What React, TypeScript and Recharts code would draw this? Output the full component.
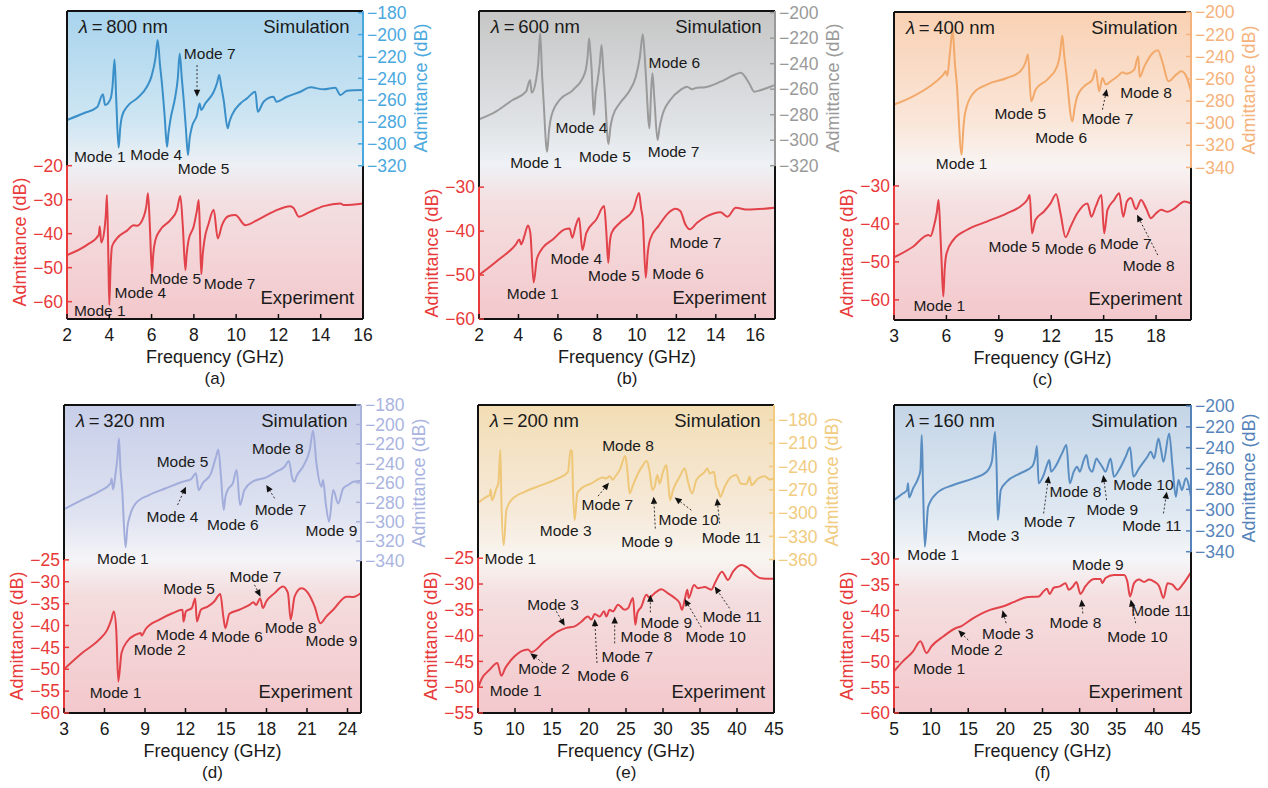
import React from "react";
import {
  ComposedChart,
  Line,
  XAxis,
  YAxis,
  ReferenceArea,
  ReferenceLine,
  ReferenceDot,
} from "recharts";

type Pt = [number, number];
type Note = [string, number, number, "l" | "r"];
type Arrow = [number, number, number, number, "l" | "r"];

const FONT = '"Liberation Sans", Arial, Helvetica, sans-serif';
const EXP_COLOR = "#e2424a";
const EXP_AXIS = "#e83a3a";

// ---------- (a) 800 nm ----------
const xTicksA = [2, 4, 6, 8, 10, 12, 14, 16];
const leftTicksA = [-20, -30, -40, -50, -60];
const rightTicksA = [-180, -200, -220, -240, -260, -280, -300, -320];
const simA: Pt[] = [
  [2, -278.2], [2.79, -272], [3.42, -266.6], [3.7, -254.7], [3.8, -264.5], [4.05, -259.3],
  [4.15, -248], [4.25, -222.7], [4.33, -260], [4.44, -303.5], [4.52, -285], [4.6, -275],
  [4.84, -266], [5.31, -258.4], [5.78, -247.7], [6.0, -238], [6.18, -222], [6.29, -205],
  [6.4, -228], [6.49, -244.7], [6.62, -275], [6.73, -302.6], [6.8, -290], [6.89, -278],
  [7.12, -256.9], [7.24, -240], [7.33, -217.2], [7.43, -240], [7.52, -259.9], [7.62, -285],
  [7.72, -310.2], [7.8, -295], [7.91, -284.3], [8.15, -273.6], [8.27, -263], [8.35, -269],
  [8.54, -263], [8.94, -252.3], [9.1, -244], [9.2, -237], [9.3, -248], [9.41, -259.9],
  [9.6, -285.8], [9.68, -280], [9.8, -273.6], [10.2, -263], [10.51, -258.4], [10.91, -252.3],
  [11.02, -270.6], [11.3, -261.4], [11.77, -256.9], [11.9, -261.4], [12.4, -256.9],
  [13.04, -252.3], [13.51, -248.3], [14.14, -250.1], [14.69, -248.6], [14.93, -255.3],
  [15.24, -251.4], [16, -250.8],
];
const expA: Pt[] = [
  [2, -46.3], [2.95, -43.3], [3.5, -40.4], [3.55, -37.9], [3.62, -42.6], [3.77, -38.9],
  [3.84, -34], [3.89, -28.6], [3.95, -45], [4.0, -61], [4.06, -50], [4.13, -43.8],
  [4.36, -41.4], [4.84, -39.1], [5.15, -37.5], [5.31, -37.7], [5.63, -35], [5.75, -32],
  [5.83, -28.1], [5.92, -38], [6.02, -51.7], [6.08, -46], [6.18, -41.9], [6.41, -38.9],
  [6.89, -36], [7.2, -33], [7.36, -28.9], [7.48, -38], [7.6, -50.7], [7.66, -46],
  [7.75, -41.9], [7.99, -37.9], [8.15, -33], [8.23, -30.1], [8.29, -40], [8.35, -51.9],
  [8.42, -46], [8.5, -41.9], [8.7, -37], [8.94, -33], [9.13, -41.4], [9.33, -37.5],
  [9.65, -34.8], [9.96, -34.5], [10.44, -37.5], [11.0, -36], [11.77, -33.5], [12.56, -31.9],
  [12.72, -32.5], [12.96, -35], [13.51, -33.5], [14.14, -31.9], [14.93, -31.1],
  [15.09, -31.6], [16, -31.1],
];
const notesA: Note[] = [
  ["Mode 1", 3.55, -311.7, "r"], ["Mode 4", 6.22, -309.3, "r"], ["Mode 7", 8.75, -217.2, "r"],
  ["Mode 5", 8.46, -323, "r"], ["Mode 1", 3.55, -62.5, "l"], ["Mode 4", 5.47, -57.3, "l"],
  ["Mode 5", 7.12, -53.1, "l"], ["Mode 7", 9.69, -54.6, "l"],
];
const arrowsA: Arrow[] = [[8.15, -227.9, 8.15, -256.9, "r"]];

// ---------- (b) 600 nm ----------
const xTicksB = [2, 4, 6, 8, 10, 12, 14, 16];
const leftTicksB = [-30, -40, -50, -60];
const rightTicksB = [-200, -220, -240, -260, -280, -300, -320];
const simB: Pt[] = [
  [2, -283.7], [2.85, -277.6], [3.7, -268.5], [4.38, -262], [4.59, -252.8], [4.67, -262.7],
  [4.89, -252.8], [5.0, -240], [5.1, -216.2], [5.2, -250], [5.27, -268.5], [5.45, -309],
  [5.55, -292], [5.66, -281.6], [6.08, -268.5], [6.76, -260.7], [7.36, -247.6], [7.5, -235],
  [7.58, -220.1], [7.65, -232], [7.7, -242.4], [7.82, -280.3], [7.92, -262], [7.99, -255.4],
  [8.12, -240], [8.21, -225.4], [8.3, -245], [8.38, -263.3], [8.56, -303], [8.66, -290],
  [8.77, -281.6], [9.14, -271.1], [9.65, -260.7], [9.95, -250], [10.15, -235], [10.3, -217],
  [10.38, -230], [10.45, -247.6], [10.64, -290.7], [10.72, -262], [10.79, -247.6],
  [10.89, -268.5], [11.05, -299.9], [11.15, -290], [11.27, -281.6], [11.69, -268.5],
  [12.2, -260.7], [12.54, -258], [12.8, -260.1], [13.05, -258.8], [13.39, -258.6],
  [14.24, -254.1], [14.93, -248.9], [15.27, -247.1], [15.69, -255.4], [15.95, -262],
  [16.29, -260.7], [17, -256.7],
];
const expB: Pt[] = [
  [2, -50], [3.02, -46.4], [3.87, -43], [4.04, -41.9], [4.14, -43], [4.3, -41.1], [4.48, -38.7],
  [4.6, -40.4], [4.77, -51.7], [4.93, -46.4], [5.23, -43.8], [5.74, -41.9], [6.34, -39.6],
  [6.59, -39.4], [6.73, -41.5], [6.9, -38.8], [7.07, -37], [7.24, -44.3], [7.44, -40.4],
  [7.95, -37.3], [8.34, -34.3], [8.45, -40], [8.55, -47.2], [8.62, -43], [8.72, -40.4],
  [9.14, -38.1], [9.82, -35.1], [10.11, -31.3], [10.22, -35], [10.3, -37.3], [10.45, -50.6],
  [10.55, -45], [10.67, -41.9], [11.1, -38.8], [11.61, -35.8], [11.95, -34.9], [12.2, -35.4],
  [12.46, -38.5], [12.68, -39.6], [13.05, -38.1], [13.56, -36.6], [14.24, -35.7],
  [14.59, -36.7], [15.01, -34.7], [15.61, -35.1], [17, -34.7],
];
const notesB: Note[] = [
  ["Mode 4", 7.19, -290, "r"], ["Mode 1", 4.89, -317.4, "r"], ["Mode 5", 8.38, -313, "r"],
  ["Mode 6", 11.9, -239.2, "r"], ["Mode 7", 11.86, -308.5, "r"], ["Mode 4", 6.93, -46.2, "l"],
  ["Mode 5", 8.84, -50.2, "l"], ["Mode 6", 12.09, -49.6, "l"], ["Mode 7", 12.97, -42.5, "l"],
  ["Mode 1", 4.72, -54.3, "l"],
];
const arrowsB: Arrow[] = [];

// ---------- (c) 400 nm ----------
const xTicksC = [3, 6, 9, 12, 15, 18];
const leftTicksC = [-30, -40, -50, -60];
const rightTicksC = [-200, -220, -240, -260, -280, -300, -320, -340];
const simC: Pt[] = [
  [3, -283.4], [4.09, -275.9], [5.05, -266.8], [5.82, -256.3], [5.97, -253.3], [6.05, -257.2],
  [6.2, -236.7], [6.36, -215.7], [6.48, -245], [6.59, -263.8], [6.87, -328.6], [6.97, -305],
  [7.07, -290.9], [7.55, -272.9], [8.31, -265.3], [9.46, -259.3], [10.23, -253.3],
  [10.52, -245.8], [10.67, -238.2], [10.85, -280.4], [11.1, -269.9], [11.77, -260.8],
  [12.34, -248.8], [12.5, -238], [12.63, -221.1], [12.75, -240], [12.86, -254.8],
  [13.21, -298.5], [13.35, -285], [13.49, -275.9], [13.88, -266.8], [14.36, -260.8],
  [14.55, -251.8], [14.74, -271.4], [14.93, -259.3], [15.12, -265.3], [15.41, -262.3],
  [15.8, -257.8], [16.08, -254.2], [16.27, -255.4], [16.75, -251.8], [16.98, -239.7],
  [17.06, -258.4], [17.33, -248.8], [17.81, -236.7], [18.1, -234.3], [18.38, -245.8],
  [18.71, -262.3], [19.15, -256.3], [19.44, -253.3], [19.73, -257.8], [20, -271.4],
];
const expC: Pt[] = [
  [3, -48.8], [4.09, -46], [4.96, -42.9], [5.09, -43.2], [5.28, -40.7], [5.45, -37],
  [5.55, -33.7], [5.65, -42], [5.72, -49.5], [5.82, -59.1], [5.9, -52], [6.01, -47.7],
  [6.4, -44.2], [7.16, -41.6], [8.31, -39.4], [9.46, -37.2], [10.23, -35.4], [10.62, -33.7],
  [10.77, -32.4], [10.9, -42.5], [11.1, -38.9], [11.57, -36.8], [11.96, -34.6], [12.28, -32.2],
  [12.53, -37.2], [12.82, -43.5], [13.11, -40.7], [13.49, -37.2], [14.07, -34.6],
  [14.3, -38.1], [14.55, -35.4], [14.87, -32.4], [15.03, -42.5], [15.22, -36.3], [15.6, -33.7],
  [15.89, -31.9], [16.12, -38.1], [16.33, -34.1], [16.56, -33.2], [16.85, -36.1],
  [17.14, -33.7], [17.43, -35.9], [17.71, -38.5], [18.0, -37.2], [18.29, -36.3],
  [18.67, -36.8], [19.06, -35.9], [19.63, -34.1], [20, -34.6],
];
const notesC: Note[] = [
  ["Mode 1", 6.87, -336.1, "r"], ["Mode 5", 10.23, -290.9, "r"], ["Mode 6", 12.57, -312.9, "r"],
  ["Mode 7", 15.22, -295.8, "r"], ["Mode 8", 17.43, -272.3, "r"], ["Mode 5", 9.89, -46, "l"],
  ["Mode 6", 13.11, -46.4, "l"], ["Mode 7", 16.27, -45.1, "l"], ["Mode 8", 17.58, -51, "l"],
  ["Mode 1", 5.59, -61.6, "l"],
];
const arrowsC: Arrow[] = [
  [14.93, -287.9, 15.18, -269.3, "r"],
  [18.1, -48.2, 16.91, -37.6, "l"],
];

// ---------- (d) 320 nm ----------
const xTicksD = [3, 6, 9, 12, 15, 18, 21, 24];
const leftTicksD = [-25, -30, -35, -40, -45, -50, -55, -60];
const rightTicksD = [-180, -200, -220, -240, -260, -280, -300, -320, -340];
const simD: Pt[] = [
  [3, -287.2], [4.34, -277.6], [5.58, -269.1], [6.45, -260.5], [6.52, -255.4], [6.64, -266.7],
  [6.82, -250.2], [6.95, -235], [7.07, -214.3], [7.18, -245], [7.31, -267.4], [7.56, -326.3],
  [7.7, -305], [7.86, -294.8], [8.31, -281.1], [9.3, -272.5], [10.54, -265.6], [11.78, -258.8],
  [12.4, -256.4], [12.77, -250.2], [12.97, -267.4], [13.27, -260.5], [13.89, -250.2],
  [14.26, -233.1], [14.43, -225.6], [14.63, -253.7], [14.83, -287.9], [14.95, -275],
  [15.12, -267.4], [15.5, -260.5], [15.79, -246.8], [16.04, -282.8], [16.36, -267.4],
  [16.98, -258.8], [17.98, -254.3], [18.72, -248.5], [19.34, -243.4], [19.66, -237.6],
  [19.91, -255.4], [20.08, -258.8], [20.21, -253.7], [20.7, -243.4], [21.2, -226.2],
  [21.45, -206.4], [21.7, -240], [22.07, -263.9], [22.19, -257.1], [22.39, -281.1],
  [22.64, -299.9], [22.94, -267.4], [23.31, -281.1], [23.68, -265.6], [24.05, -262.2],
  [24.43, -258.8], [25, -257.8],
];
const expD: Pt[] = [
  [3, -50], [4.34, -46.3], [5.58, -43.3], [6.2, -41], [6.5, -38.7], [6.69, -36.8], [6.87, -41],
  [7.02, -52.8], [7.26, -46.3], [7.69, -43.6], [8.31, -42.1], [8.68, -41.7], [8.75, -42.3],
  [9.05, -40.8], [10.04, -38.7], [11.03, -37.2], [11.78, -36.4], [11.85, -39.1],
  [12.03, -36.8], [12.47, -36], [12.72, -33.8], [12.84, -39.1], [13.14, -36.4], [13.64, -35.7],
  [14.13, -34.5], [14.58, -32.8], [14.8, -37.9], [14.95, -40.6], [15.25, -37.3],
  [15.99, -36.4], [16.74, -35.3], [17.03, -34.7], [17.23, -35.3], [17.53, -33.8], [17.73, -36],
  [17.98, -34.5], [18.6, -32.6], [19.22, -31.1], [19.59, -32.6], [19.79, -38.7],
  [20.08, -33.4], [20.58, -31.5], [21.08, -32.6], [21.57, -35.7], [21.99, -39.5],
  [22.44, -37.9], [22.94, -36.4], [23.93, -33.4], [24.42, -33.5], [25, -32.6],
];
const notesD: Note[] = [
  ["Mode 5", 11.78, -238.2, "r"], ["Mode 4", 11.03, -294.8, "r"], ["Mode 6", 15.5, -303.3, "r"],
  ["Mode 8", 18.84, -224.5, "r"], ["Mode 7", 19.04, -286.9, "r"], ["Mode 9", 22.81, -308.5, "r"],
  ["Mode 1", 7.36, -337.6, "r"], ["Mode 5", 12.27, -31.6, "l"], ["Mode 7", 17.18, -28.8, "l"],
  ["Mode 4", 11.73, -42, "l"], ["Mode 6", 15.82, -42.4, "l"], ["Mode 8", 19.79, -40.4, "l"],
  ["Mode 2", 10.09, -45.5, "l"], ["Mode 9", 22.81, -43.5, "l"], ["Mode 1", 6.82, -55.3, "l"],
];
const arrowsD: Arrow[] = [
  [11.41, -282.8, 12.03, -263.9, "r"],
  [18.6, -275.9, 17.98, -262.2, "r"],
  [17.11, -30.7, 17.56, -33.4, "l"],
];

// ---------- (e) 200 nm ----------
const xTicksE = [5, 10, 15, 20, 25, 30, 35, 40, 45];
const leftTicksE = [-25, -30, -35, -40, -45, -50, -55];
const rightTicksE = [-180, -210, -240, -270, -300, -330, -360];
const simE: Pt[] = [
  [5, -286.8], [6.13, -279], [6.58, -276.9], [6.71, -269.6], [6.89, -283.4], [7.48, -268.3],
  [7.75, -261.8], [8.02, -218.8], [8.15, -279], [8.47, -341.5], [8.83, -296.3], [9.5, -283.4],
  [11.31, -272.6], [13.56, -264], [15.81, -255.4], [17.16, -246.8], [17.52, -218.8],
  [17.7, -220.9], [17.84, -270.4], [18.06, -309.2], [18.42, -274.7], [18.96, -268.3],
  [20.32, -261.8], [21.89, -254.1], [22.34, -255.4], [22.79, -252.4], [23.2, -257],
  [23.47, -254], [24.14, -244.6], [24.91, -226.5], [25.18, -244.6], [25.5, -274.7],
  [25.95, -264], [26.62, -248.9], [27.3, -238.1], [27.79, -232.5], [28.2, -246.8],
  [28.56, -270.4], [28.87, -266.1], [29.23, -251], [29.55, -261.8], [30.0, -246.8],
  [30.45, -238.1], [30.68, -257.5], [30.95, -283.4], [31.35, -270.4], [32.25, -253.2],
  [32.93, -242.4], [33.38, -259.7], [33.92, -274.7], [34.5, -257.5], [35.63, -246.8],
  [35.99, -242.4], [36.31, -248.9], [36.89, -246.8], [37.21, -266.1], [37.43, -269.6],
  [37.75, -279], [38.33, -266.1], [39.23, -253.2], [39.91, -251], [40.5, -261.8],
  [41.26, -262.7], [41.71, -253.2], [41.94, -264], [42.84, -255.4], [43.74, -252.4],
  [44.41, -256.7], [45, -255.4],
];
const expE: Pt[] = [
  [5, -50.2], [5.45, -48.5], [6.58, -46.6], [7.61, -45.3], [8.15, -47.8], [8.69, -46.3],
  [9.95, -44], [11.76, -42.7], [12.21, -43.2], [14.01, -41.1], [15.81, -39.2], [16.94, -38.5],
  [18.06, -38.2], [18.96, -37.3], [19.86, -36.3], [20.32, -36.9], [20.77, -35.8],
  [21.44, -36.3], [22.03, -35.3], [22.34, -36.3], [22.79, -35], [23.24, -35.3], [23.92, -34],
  [24.82, -35], [25.27, -34.7], [25.95, -32.7], [26.26, -37.9], [26.53, -35.6], [27.07, -34.4],
  [27.75, -32.1], [28.2, -32.7], [28.42, -32.4], [28.87, -31.8], [29.77, -31], [30.68, -31.8],
  [31.58, -32.7], [32.25, -33.7], [32.57, -35], [32.93, -33.1], [33.29, -31.1], [33.47, -32.7],
  [34.19, -30.2], [34.73, -30.8], [35.63, -30.6], [36.53, -31.1], [37.12, -29.5],
  [37.97, -27.6], [38.78, -29.2], [39.46, -27.6], [40.59, -26.3], [41.49, -26.9],
  [42.39, -28.2], [43.29, -28.9], [45, -29],
];
const notesE: Note[] = [
  ["Mode 8", 25.27, -213.2, "r"], ["Mode 7", 22.48, -289, "r"], ["Mode 3", 16.85, -322.1, "r"],
  ["Mode 1", 9.37, -358.7, "r"], ["Mode 10", 33.47, -308.3, "r"], ["Mode 9", 27.84, -336.3, "r"],
  ["Mode 11", 39.23, -331.6, "r"], ["Mode 3", 15.14, -33.9, "l"], ["Mode 9", 30.45, -37.4, "l"],
  ["Mode 8", 27.75, -40.2, "l"], ["Mode 10", 37.12, -40.2, "l"], ["Mode 11", 39.32, -36.3, "l"],
  ["Mode 7", 25.18, -44, "l"], ["Mode 6", 21.89, -47.7, "l"], ["Mode 2", 13.92, -46.3, "l"],
  ["Mode 1", 10.09, -50.7, "l"],
];
const arrowsE: Arrow[] = [
  [21.22, -278.2, 22.7, -261, "r"],
  [33.83, -296.3, 31.58, -279.9, "r"],
  [28.96, -320, 28.74, -279, "r"],
  [37.66, -313.5, 37.3, -281.2, "r"],
  [15.59, -35.3, 16.71, -38.1, "l"],
  [28.29, -35.5, 28.29, -32.1, "l"],
  [35.18, -38.4, 32.93, -32.9, "l"],
  [39.0, -34.7, 36.98, -30.5, "l"],
  [23.47, -41.5, 23.47, -36.3, "l"],
  [21.08, -45.3, 20.77, -36.8, "l"],
  [13.78, -45.3, 12.07, -43.4, "l"],
];

// ---------- (f) 160 nm ----------
const xTicksF = [5, 10, 15, 20, 25, 30, 35, 40, 45];
const leftTicksF = [-30, -35, -40, -45, -50, -55, -60];
const rightTicksF = [-200, -220, -240, -260, -280, -300, -320, -340];
const simF: Pt[] = [
  [5, -290.4], [6.22, -283.9], [6.76, -280.7], [6.89, -274.3], [7.03, -287.8], [7.57, -279.1],
  [8.25, -269.5], [8.56, -261.5], [8.74, -227.9], [8.92, -280.7], [9.15, -335.2],
  [9.6, -296.8], [10.73, -283.9], [12.98, -275.9], [15.69, -269.5], [17.49, -263.1],
  [18.17, -253.5], [18.62, -224.7], [18.84, -264.7], [18.98, -309.6], [19.38, -280.7],
  [20.19, -272.7], [21.99, -264.7], [23.58, -258.3], [24.03, -248.7], [24.25, -238.4],
  [24.48, -274.3], [25.15, -266.3], [25.6, -256.7], [25.92, -251.9], [26.15, -263.1],
  [26.73, -258.3], [27.63, -245.5], [28.22, -237.5], [28.67, -274.3], [29.21, -263.1],
  [29.66, -258.3], [30.02, -263.1], [30.56, -251.9], [30.92, -247.1], [31.24, -258.3],
  [31.69, -263.1], [32.28, -250.3], [32.59, -253.5], [33.04, -258.3], [33.49, -263.1],
  [34.17, -250.3], [34.62, -267.9], [35.3, -261.5], [36.2, -248.7], [36.79, -239.7],
  [37.24, -267.9], [38.0, -259.9], [39.13, -248.7], [39.58, -243.9], [40.03, -250.3],
  [40.62, -231.1], [40.93, -240.7], [41.29, -253.5], [42.06, -226.3], [42.51, -258.3],
  [42.96, -287.2], [43.32, -271.1], [43.77, -280.7], [44.31, -269.5], [45, -287.2],
];
const expF: Pt[] = [
  [5, -51.9], [6.22, -49.9], [7.57, -48], [8.56, -46], [9.37, -48.3], [10.05, -47],
  [11.63, -45.1], [13.43, -43.4], [13.88, -43.2], [15.69, -41.5], [17.94, -39.9],
  [19.74, -39.2], [21.1, -38.4], [22.45, -37.6], [23.13, -37.4], [24.48, -37.3],
  [25.15, -36.3], [25.6, -35.8], [25.96, -36.8], [26.51, -35.6], [27.41, -35.3],
  [28.09, -34.7], [28.54, -36], [29.12, -35.3], [29.57, -34.5], [30.11, -36.8],
  [30.79, -35.3], [31.92, -33.9], [32.82, -33.9], [33.04, -34.7], [33.49, -33.7],
  [34.62, -33.1], [35.97, -33.1], [36.43, -34.4], [36.79, -37.3], [37.33, -34.7], [38.0, -34],
  [38.68, -34.5], [39.36, -34], [40.03, -34.4], [40.71, -35.3], [41.29, -37.6],
  [41.84, -34.7], [42.51, -35], [43.19, -36], [43.86, -35], [45, -32.6],
];
const notesF: Note[] = [
  ["Mode 1", 10.28, -342.3, "r"], ["Mode 3", 18.39, -324, "r"], ["Mode 7", 25.96, -311.2, "r"],
  ["Mode 8", 29.44, -282.3, "r"], ["Mode 9", 34.4, -299, "r"], ["Mode 10", 38.59, -275, "r"],
  ["Mode 11", 39.72, -314.4, "r"], ["Mode 9", 32.46, -31.1, "l"], ["Mode 11", 40.93, -40.1, "l"],
  ["Mode 8", 29.44, -42.3, "l"], ["Mode 10", 37.78, -45.1, "l"], ["Mode 3", 20.33, -44.6, "l"],
  ["Mode 2", 16.14, -47.7, "l"], ["Mode 1", 11.09, -51.4, "l"],
];
const arrowsF: Arrow[] = [
  [25.15, -303.2, 25.83, -267.3, "r"],
  [33.63, -290.4, 33.18, -266.3, "r"],
  [41.29, -303.2, 41.74, -282.3, "r"],
  [30.43, -40.6, 30.25, -37.9, "l"],
  [37.55, -42.5, 36.88, -37.9, "l"],
  [20.1, -42.5, 19.61, -40, "l"],
  [15.01, -45.8, 13.66, -43.9, "l"],
];

const BG_OFFSETS = [0, 0.36, 0.5, 0.62, 1];

const panels = [
  {
    id: "a", caption: "(a)", lambda: "800",
    plot: { x: 67, y: 11, w: 296, h: 308 },
    xDomain: [2, 16], xTicks: xTicksA,
    leftDomain: [-65.1, 25.5], leftTicks: leftTicksA,
    rightDomain: [-460.3, -178.4], rightTicks: rightTicksA,
    simColor: "#3a8fc8", axisColor: "#4aa8de",
    bg: ["#a8d4ed", "#cfe6f3", "#edf0f4", "#f3dfe1", "#f3c8cc"],
    sim: simA, exp: expA, notes: notesA, arrows: arrowsA,
  },
  {
    id: "b", caption: "(b)", lambda: "600",
    plot: { x: 479, y: 11, w: 296, h: 308 },
    xDomain: [2, 17], xTicks: xTicksB,
    leftDomain: [-60, 10.1], leftTicks: leftTicksB,
    rightDomain: [-440.2, -198.7], rightTicks: rightTicksB,
    simColor: "#9a9a9a", axisColor: "#9a9a9a",
    bg: ["#c6c6c6", "#dfe2e5", "#eef1f5", "#f4dfe0", "#f3c8cc"],
    sim: simB, exp: expB, notes: notesB, arrows: arrowsB,
  },
  {
    id: "c", caption: "(c)", lambda: "400",
    plot: { x: 894, y: 12, w: 297, h: 308 },
    xDomain: [3, 20], xTicks: xTicksC,
    leftDomain: [-65.3, 15.8], leftTicks: leftTicksC,
    rightDomain: [-477.6, -199.8], rightTicks: rightTicksC,
    simColor: "#f2a96a", axisColor: "#f5b27c",
    bg: ["#f9d1b3", "#fae6d9", "#f8f4f3", "#f5e0e1", "#f3c8cc"],
    sim: simC, exp: expC, notes: notesC, arrows: arrowsC,
  },
  {
    id: "d", caption: "(d)", lambda: "320",
    plot: { x: 64, y: 405, w: 297, h: 308 },
    xDomain: [3, 25], xTicks: xTicksD,
    leftDomain: [-60, 10.4], leftTicks: leftTicksD,
    rightDomain: [-496.5, -180], rightTicks: rightTicksD,
    simColor: "#a2addb", axisColor: "#aab4df",
    bg: ["#c7cee8", "#dfe3f1", "#f5f4f7", "#f4dcdd", "#f3c8cc"],
    sim: simD, exp: expD, notes: notesD, arrows: arrowsD,
  },
  {
    id: "e", caption: "(e)", lambda: "200",
    plot: { x: 478, y: 405, w: 296, h: 308 },
    xDomain: [5, 45], xTicks: xTicksE,
    leftDomain: [-55, 4.7], leftTicks: leftTicksE,
    rightDomain: [-558, -160.6], rightTicks: rightTicksE,
    simColor: "#eec779", axisColor: "#f0cb80",
    bg: ["#f2ddb4", "#f6eadb", "#f8f5f1", "#f4dedf", "#f3c8cc"],
    sim: simE, exp: expE, notes: notesE, arrows: arrowsE,
  },
  {
    id: "f", caption: "(f)", lambda: "160",
    plot: { x: 894, y: 405, w: 297, h: 308 },
    xDomain: [5, 45], xTicks: xTicksF,
    leftDomain: [-60, 0], leftTicks: leftTicksF,
    rightDomain: [-495, -199], rightTicks: rightTicksF,
    simColor: "#5a8ec2", axisColor: "#5683ba",
    bg: ["#c4d5e7", "#e0e9f2", "#f5f6f8", "#f5dfe0", "#f3c8cc"],
    sim: simF, exp: expF, notes: notesF, arrows: arrowsF,
  },
];

type PanelCfg = (typeof panels)[number];

const LW = 60;
const RW = 60;
const MT = 11;
const MB = 34;

const fmt = (v: number) => (v < 0 ? "\u2212" + Math.abs(v) : String(v));

function ArrowShape(props: any) {
  const { x1, y1, x2, y2 } = props;
  const dx = x2 - x1;
  const dy = y2 - y1;
  const len = Math.hypot(dx, dy) || 1;
  const ux = dx / len;
  const uy = dy / len;
  const hl = 7;
  const hw = 3.2;
  const bx = x2 - ux * hl;
  const by = y2 - uy * hl;
  return (
    <g>
      <line x1={x1} y1={y1} x2={bx} y2={by} stroke="#333" strokeWidth={1} strokeDasharray="2 2" />
      <polygon
        points={`${x2},${y2} ${bx - uy * hw},${by + ux * hw} ${bx + uy * hw},${by - ux * hw}`}
        fill="#111"
      />
    </g>
  );
}

function textShape(text: React.ReactNode, anchor: string, size: number) {
  return (sp: any) => (
    <text
      x={sp.cx}
      y={sp.cy}
      textAnchor={anchor}
      dominantBaseline="central"
      fontSize={size}
      fontFamily={FONT}
      fill="#1a1a1a"
    >
      {text}
    </text>
  );
}

function Panel({ p }: { p: PanelCfg }) {
  const [x0, x1] = p.xDomain;
  const [lLo, lHi] = p.leftDomain;
  const [rLo, rHi] = p.rightDomain;
  const simData = p.sim.map(([f, v]) => ({ f, v }));
  const expData = p.exp.map(([f, v]) => ({ f, v }));
  const width = LW + p.plot.w + RW;
  const height = MT + p.plot.h + MB;
  const lTop = p.leftTicks[0];
  const rBot = p.rightTicks[p.rightTicks.length - 1];
  const yL = p.plot.y + ((lHi - lTop) / (lHi - lLo)) * p.plot.h;
  const yR = p.plot.y + ((rHi - rBot) / (rHi - rLo)) * p.plot.h;
  const bottom = p.plot.y + p.plot.h;
  const fx = (t: number) => x0 + t * (x1 - x0);
  const fy = (t: number) => lHi - t * (lHi - lLo);
  const tickFont = { fontSize: 17.5, fontFamily: FONT };

  return (
    <>
      <div style={{ position: "absolute", left: p.plot.x - LW, top: p.plot.y - MT }}>
        <ComposedChart width={width} height={height} margin={{ top: MT, right: 0, bottom: 0, left: 0 }}>
          <defs>
            <linearGradient id={`bg-${p.id}`} x1="0" y1="0" x2="0" y2="1">
              {p.bg.map((c, i) => (
                <stop key={i} offset={BG_OFFSETS[i]} stopColor={c} />
              ))}
            </linearGradient>
          </defs>
          <XAxis
            type="number"
            dataKey="f"
            domain={p.xDomain}
            ticks={p.xTicks}
            interval={0}
            allowDataOverflow
            height={MB}
            axisLine={false}
            tickSize={-5}
            tickMargin={15}
            tickLine={{ stroke: "#111", strokeWidth: 1.5 }}
            tick={{ fill: "#1a1a1a", ...tickFont }}
          />
          <YAxis
            yAxisId="l"
            orientation="left"
            width={LW}
            type="number"
            domain={p.leftDomain}
            ticks={p.leftTicks}
            interval={0}
            allowDataOverflow
            axisLine={false}
            tickSize={-5}
            tickMargin={9}
            tickLine={{ stroke: EXP_AXIS, strokeWidth: 1.5 }}
            tick={{ fill: EXP_AXIS, ...tickFont }}
            tickFormatter={fmt}
          />
          <YAxis
            yAxisId="r"
            orientation="right"
            width={RW}
            type="number"
            domain={p.rightDomain}
            ticks={p.rightTicks}
            interval={0}
            allowDataOverflow
            axisLine={false}
            tickSize={-5}
            tickMargin={9}
            tickLine={{ stroke: p.axisColor, strokeWidth: 1.5 }}
            tick={{ fill: p.axisColor, ...tickFont }}
            tickFormatter={fmt}
          />
          <ReferenceArea
            yAxisId="l"
            x1={x0}
            x2={x1}
            y1={lLo}
            y2={lHi}
            fill={`url(#bg-${p.id})`}
            fillOpacity={1}
            stroke="none"
            ifOverflow="visible"
          />
          <Line
            yAxisId="r"
            data={simData}
            dataKey="v"
            type="monotone"
            stroke={p.simColor}
            strokeWidth={2}
            dot={false}
            isAnimationActive={false}
          />
          <Line
            yAxisId="l"
            data={expData}
            dataKey="v"
            type="monotone"
            stroke={EXP_COLOR}
            strokeWidth={2}
            dot={false}
            isAnimationActive={false}
          />
          {/* frame */}
          <ReferenceLine yAxisId="l" segment={[{ x: x0, y: lHi }, { x: x1, y: lHi }]} stroke="#111" strokeWidth={2} ifOverflow="visible" />
          <ReferenceLine yAxisId="l" segment={[{ x: x0, y: lLo }, { x: x1, y: lLo }]} stroke="#111" strokeWidth={2} ifOverflow="visible" />
          <ReferenceLine yAxisId="l" segment={[{ x: x0, y: lHi }, { x: x0, y: lTop }]} stroke="#111" strokeWidth={2} ifOverflow="visible" />
          <ReferenceLine yAxisId="l" segment={[{ x: x0, y: lTop }, { x: x0, y: lLo }]} stroke={EXP_AXIS} strokeWidth={2} ifOverflow="visible" />
          <ReferenceLine yAxisId="r" segment={[{ x: x1, y: rBot }, { x: x1, y: rLo }]} stroke="#111" strokeWidth={2} ifOverflow="visible" />
          <ReferenceLine yAxisId="r" segment={[{ x: x1, y: rHi }, { x: x1, y: rBot }]} stroke={p.axisColor} strokeWidth={2} ifOverflow="visible" />
          {p.arrows.map((a, i) => (
            <ReferenceLine
              key={`ar${i}`}
              yAxisId={a[4]}
              segment={[{ x: a[0], y: a[1] }, { x: a[2], y: a[3] }]}
              ifOverflow="visible"
              shape={ArrowShape}
            />
          ))}
          {p.notes.map((n, i) => (
            <ReferenceDot
              key={`n${i}`}
              yAxisId={n[3]}
              x={n[1]}
              y={n[2]}
              r={1}
              ifOverflow="visible"
              shape={textShape(n[0], "middle", 15.5)}
            />
          ))}
          <ReferenceDot
            yAxisId="l"
            x={fx(0.04)}
            y={fy(0.05)}
            r={1}
            ifOverflow="visible"
            shape={textShape(
              <>
                <tspan fontStyle="italic">λ</tspan>
                {"\u2009=\u2009" + p.lambda + " nm"}
              </>,
              "start",
              18.5
            )}
          />
          <ReferenceDot
            yAxisId="l"
            x={fx(0.955)}
            y={fy(0.05)}
            r={1}
            ifOverflow="visible"
            shape={textShape("Simulation", "end", 18.5)}
          />
          <ReferenceDot
            yAxisId="l"
            x={fx(0.97)}
            y={fy(0.93)}
            r={1}
            ifOverflow="visible"
            shape={textShape("Experiment", "end", 18.5)}
          />
        </ComposedChart>
      </div>
      <div
        style={{
          position: "absolute",
          left: p.plot.x + p.plot.w / 2,
          top: bottom + 38,
          transform: "translate(-50%, -50%)",
          whiteSpace: "nowrap",
          fontFamily: FONT,
          fontSize: 18,
          color: "#1a1a1a",
        }}
      >
        Frequency (GHz)
      </div>
      <div
        style={{
          position: "absolute",
          left: p.plot.x + p.plot.w / 2,
          top: bottom + 60,
          transform: "translate(-50%, -50%)",
          whiteSpace: "nowrap",
          fontFamily: FONT,
          fontSize: 17,
          color: "#1a1a1a",
        }}
      >
        {p.caption}
      </div>
      <div
        style={{
          position: "absolute",
          left: p.plot.x - 47,
          top: (yL + bottom) / 2,
          transform: "translate(-50%, -50%) rotate(-90deg)",
          whiteSpace: "nowrap",
          fontFamily: FONT,
          fontSize: 18,
          color: EXP_AXIS,
        }}
      >
        Admittance (dB)
      </div>
      <div
        style={{
          position: "absolute",
          left: p.plot.x + p.plot.w + 58,
          top: (p.plot.y + yR) / 2,
          transform: "translate(-50%, -50%) rotate(-90deg)",
          whiteSpace: "nowrap",
          fontFamily: FONT,
          fontSize: 18,
          color: p.axisColor,
        }}
      >
        Admittance (dB)
      </div>
    </>
  );
}

export default function App() {
  return (
    <div
      style={{
        position: "absolute",
        left: 0,
        top: 0,
        width: 1268,
        height: 788,
        background: "#ffffff",
        overflow: "hidden",
      }}
    >
      {panels.map((p) => (
        <Panel key={p.id} p={p} />
      ))}
    </div>
  );
}
